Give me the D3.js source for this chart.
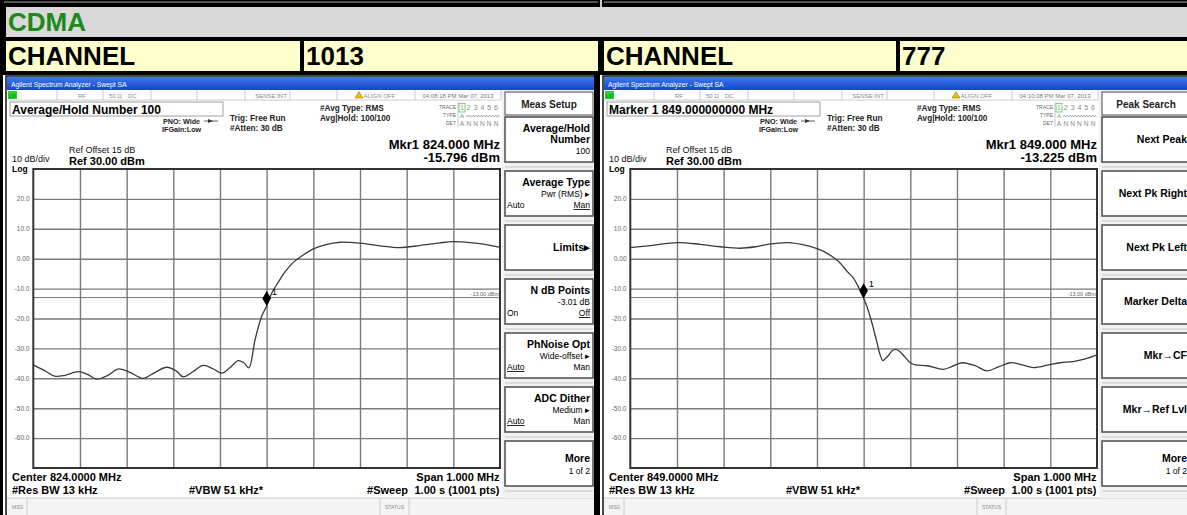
<!DOCTYPE html>
<html><head><meta charset="utf-8">
<script src="https://cdn.jsdelivr.net/npm/d3@7"></script>
<style>
html,body{margin:0;padding:0;background:#000;overflow:hidden;}
svg{display:block;}
</style></head><body>
<svg id="c" width="1187" height="515"></svg>
<script>
// ---------------- DATA ----------------
const sectionTitle = "CDMA";
const channelLabels = ["CHANNEL", "CHANNEL"];
const channelNumbers = ["1013", "777"];
const centerLabels = ["Center 824.0000 MHz", "Center 849.0000 MHz"];
const timestamps = ["04:08:18 PM Mar 07, 2013", "04:10:08 PM Mar 07, 2013"];
const activeFunction = ["Average/Hold Number 100", "Marker 1 849.000000000 MHz"];
const markerFreqLabels = ["Mkr1 824.000 MHz", "Mkr1 849.000 MHz"];
const markerValues = [-15.796, -13.225];          // dBm
const markerOffsetsKHz = [0, 0];                   // marker at center
const spanKHz = [-500, 500];                       // span 1.000 MHz
const amplitudeRange = [-70, 30];                  // Ref 30 dBm, 10 dB/div
const yTickValues = [20, 10, 0, -10, -20, -30, -40, -50, -60];
const yTickLabels = ["20.0", "10.0", "0.00", "-10.0", "-20.0", "-30.0", "-40.0", "-50.0", "-60.0"];
const xGridValues = [-400, -300, -200, -100, 0, 100, 200, 300, 400];
const displayLineValue = -13;
const displayLineLabel = "-13.00 dBm";

// Trace for channel 1013 (offset from center in kHz, level in dBm)
const trace1013Offsets = [-500,-475,-454,-432,-404,-383,-364,-340,-319,-293,-265,-239,-214,-194,-179,-158,-136,-115,-96,-79,-61,-49,-38,-25,-11,0,11,24,39,56,78,99,125,157,200,243,285,328,371,399,436,468,500];
const trace1013Values  = [-35.5,-37.5,-39.3,-39.0,-37.8,-38.8,-40.3,-39.0,-36.9,-38.0,-40.0,-38.0,-36.3,-37.5,-39.5,-37.8,-35.7,-36.8,-38.3,-36.5,-34.1,-34.8,-36.5,-27.2,-19.4,-15.8,-11.5,-8.1,-4.5,-1.4,1.2,3.2,4.6,5.5,5.2,4.3,3.7,4.4,5.3,5.7,5.4,4.8,3.8];

// Trace for channel 777
const trace777Offsets = [-500,-457,-399,-350,-307,-264,-232,-206,-163,-121,-97,-78,-61,-50,-35,-22,-11,0,7,14,22,29,36,41,46,54,61,68,78,89,100,111,136,171,190,211,239,264,289,314,340,364,394,421,449,475,500];
const trace777Values  = [3.7,4.4,5.4,4.8,4.0,3.5,4.0,4.8,5.4,4.4,3.2,1.8,0.0,-1.5,-4.3,-6.5,-9.5,-13.2,-16.0,-19.4,-24.0,-28.3,-32.5,-34.1,-33.5,-32.2,-30.8,-30.3,-31.1,-33.0,-34.8,-35.5,-35.8,-37.0,-36.0,-34.8,-35.8,-37.5,-36.2,-34.8,-35.5,-36.4,-35.6,-34.8,-34.4,-33.5,-32.2];

const softkeyTitles = ["Meas Setup", "Peak Search"];
const softkeysMeasSetup = [
  {main: ["Average/Hold", "Number"], sub: "100"},
  {main: ["Average Type"], sub: "Pwr (RMS) \u25B8", am: ["Auto", "Man"], u: 1},
  {main: ["Limits\u25B8"]},
  {main: ["N dB Points"], sub: "-3.01 dB", am: ["On", "Off"], u: 1},
  {main: ["PhNoise Opt"], sub: "Wide-offset \u25B8", am: ["Auto", "Man"], u: 0},
  {main: ["ADC Dither"], sub: "Medium \u25B8", am: ["Auto", "Man"], u: 0},
  {main: ["More"], sub: "1 of 2", more: true}
];
const softkeysPeakSearch = [
  {main: ["Next Peak"]},
  {main: ["Next Pk Right"]},
  {main: ["Next Pk Left"]},
  {main: ["Marker Delta"]},
  {main: ["Mkr\u2192CF"]},
  {main: ["Mkr\u2192Ref Lvl"]},
  {main: ["More"], sub: "1 of 2", more: true}
];

// ---------------- DRAW ----------------
const W = 1187, H = 515;
const FONT = '"Liberation Sans", Arial, Helvetica, sans-serif';
const svg = d3.select("#c").style("font-family", FONT);

function txt(g, x, y, s, size, o = {}) {
  const t = g.append("text").attr("x", x).attr("y", y).text(s)
    .attr("font-size", size)
    .attr("font-weight", o.bold ? "bold" : "normal")
    .attr("fill", o.fill || "#000")
    .attr("text-anchor", o.anchor || "start");
  if (o.u) t.attr("text-decoration", "underline");
  return t;
}

svg.append("rect").attr("width", W).attr("height", H).attr("fill", "#000");
// remnant of row above
svg.append("rect").attr("x", 4).attr("y", 1).attr("width", 594).attr("height", 2).attr("fill", "#555");
svg.append("rect").attr("x", 604).attr("y", 1).attr("width", 583).attr("height", 2).attr("fill", "#555");
svg.append("rect").attr("x", 600).attr("y", 0).attr("width", 2).attr("height", 7).attr("fill", "#ccc");

// section band
svg.append("rect").attr("x", 6).attr("y", 7).attr("width", W - 6).attr("height", 30).attr("fill", "#d9d9d9");
txt(svg, 8, 31, sectionTitle, 26, {bold: true, fill: "#1b8a1b"});

// channel row
const cells = [[6, 294, channelLabels[0]], [304, 294, channelNumbers[0]], [604, 292, channelLabels[1]], [900, 287, channelNumbers[1]]];
cells.forEach(c => {
  svg.append("rect").attr("x", c[0]).attr("y", 41).attr("width", c[1]).attr("height", 30).attr("fill", "#ffffcc");
  txt(svg, c[0] + 2, 65, c[2], 26, {bold: true});
});

function drawPanel(idx, dx, traceOff, traceVal, softkeys) {
  const g = svg.append("g").attr("transform", `translate(${dx},0)`);
  // frame
  g.append("rect").attr("x", 3).attr("y", 75).attr("width", 592).attr("height", 440).attr("fill", "#fff");
  g.append("rect").attr("x", 6).attr("y", 76).attr("width", 588).attr("height", 439).attr("fill", "none").attr("stroke", "#111").attr("stroke-width", 1.5);
  // title bar
  const gradId = "tb" + idx;
  const grad = svg.append("defs").append("linearGradient").attr("id", gradId).attr("x1", 0).attr("x2", 0).attr("y1", 0).attr("y2", 1);
  grad.append("stop").attr("offset", 0).attr("stop-color", "#3d7af0");
  grad.append("stop").attr("offset", 1).attr("stop-color", "#1246c8");
  g.append("rect").attr("x", 7).attr("y", 77).attr("width", 587).attr("height", 13).attr("fill", `url(#${gradId})`);
  txt(g, 11, 87, "Agilent Spectrum Analyzer - Swept SA", 6.8, {fill: "#fff"});

  // status row
  g.append("rect").attr("x", 7).attr("y", 90).attr("width", 494).attr("height", 10).attr("fill", "#fff");
  g.append("line").attr("x1", 7).attr("x2", 501).attr("y1", 100).attr("y2", 100).attr("stroke", "#ccc");
  [57, 103, 151, 197, 245, 290, 337, 415, 501].forEach(x =>
    g.append("line").attr("x1", x).attr("x2", x).attr("y1", 90).attr("y2", 100).attr("stroke", "#bbb").attr("stroke-width", 0.8));
  g.append("rect").attr("x", 8).attr("y", 91).attr("width", 9).attr("height", 8).attr("fill", "#2bd12b");
  txt(g, 9, 97.5, "LXI", 4.5, {fill: "#063"});
  txt(g, 82, 97.5, "RF", 6, {fill: "#888", anchor: "middle"});
  txt(g, 109, 97.5, "50 \u03A9", 6, {fill: "#888"});
  txt(g, 128, 97.5, "DC", 6, {fill: "#888"});
  txt(g, 271, 97.5, "SENSE:INT", 6, {fill: "#888", anchor: "middle"});
  g.append("path").attr("d", "M355,98 L359,91.5 L363,98 Z").attr("fill", "#f0c000").attr("stroke", "#886600").attr("stroke-width", 0.5);
  txt(g, 363.5, 97.5, "ALIGN OFF", 6, {fill: "#888"});
  txt(g, 458, 97.5, timestamps[idx], 6, {fill: "#777", anchor: "middle"});

  // active function box
  g.append("rect").attr("x", 10).attr("y", 102).attr("width", 213).attr("height", 14).attr("fill", "#fff").attr("stroke", "#888").attr("stroke-width", 0.8);
  txt(g, 12, 113.5, activeFunction[idx], 12, {bold: true});

  txt(g, 163, 123.5, "PNO: Wide", 7.2, {bold: true, fill: "#222"});
  g.append("line").attr("x1", 204).attr("x2", 218).attr("y1", 121).attr("y2", 121).attr("stroke", "#333").attr("stroke-width", 0.8);
  g.append("path").attr("d", "M208,119 L213,121 L208,123 Z").attr("fill", "#333");
  txt(g, 162, 132, "IFGain:Low", 7.2, {bold: true, fill: "#222"});
  txt(g, 230, 120.5, "Trig: Free Run", 8.2, {bold: true, fill: "#222"});
  txt(g, 230, 131, "#Atten: 30 dB", 8.2, {bold: true, fill: "#222"});
  txt(g, 320, 110.5, "#Avg Type: RMS", 8.2, {bold: true, fill: "#222"});
  txt(g, 320, 120.5, "Avg|Hold: 100/100", 8.2, {bold: true, fill: "#222"});

  // trace table
  txt(g, 456, 109, "TRACE", 5, {fill: "#666", anchor: "end"});
  txt(g, 456, 117, "TYPE", 5, {fill: "#666", anchor: "end"});
  txt(g, 456, 125, "DET", 5, {fill: "#666", anchor: "end"});
  g.append("line").attr("x1", 458).attr("x2", 458).attr("y1", 102).attr("y2", 127).attr("stroke", "#bbb").attr("stroke-width", 0.8);
  g.append("rect").attr("x", 459).attr("y", 103.5).attr("width", 6).attr("height", 8.5).attr("fill", "none").attr("stroke", "#5c5").attr("stroke-width", 0.8);
  ["1", "2", "3", "4", "5", "6"].forEach((d, i) => txt(g, 462 + i * 6.8, 110, d, 7, {fill: i ? "#888" : "#7a7", anchor: "middle"}));
  txt(g, 462, 117.5, "A", 6, {fill: "#888", anchor: "middle"});
  g.append("path").attr("d", d3.range(0, 34, 1.4).map((v, i) => (i ? "L" : "M") + (466 + v) + "," + (115 + (i % 2 ? 0 : 2.2))).join(""))
    .attr("fill", "none").attr("stroke", "#888").attr("stroke-width", 0.6);
  ["A", "N", "N", "N", "N", "N"].forEach((d, i) => txt(g, 462 + i * 6.8, 125.5, d, 6.5, {fill: "#888", anchor: "middle"}));

  txt(g, 500, 149, markerFreqLabels[idx], 13, {bold: true, anchor: "end"});
  txt(g, 500, 162, markerValues[idx].toFixed(3) + " dBm", 13, {bold: true, anchor: "end"});
  txt(g, 69, 153, "Ref Offset 15 dB", 9, {fill: "#111"});
  txt(g, 69, 164.5, "Ref 30.00 dBm", 11, {bold: true});
  txt(g, 12, 162.3, "10 dB/div", 9, {fill: "#111"});
  txt(g, 12, 172, "Log", 8.5, {bold: true});

  // plot
  const x = d3.scaleLinear().domain(spanKHz).range([33.3, 500]);
  const y = d3.scaleLinear().domain(amplitudeRange).range([468, 169]);
  const plot = g.append("g");
  plot.append("rect").attr("x", x.range()[0]).attr("y", y.range()[1]).attr("width", x.range()[1] - x.range()[0]).attr("height", y.range()[0] - y.range()[1]).attr("fill", "#fff");

  // grid via axes
  const gx = plot.append("g").attr("transform", `translate(0,${y.range()[0]})`)
    .call(d3.axisBottom(x).tickValues(xGridValues).tickSize(-(y.range()[0] - y.range()[1])).tickFormat(""));
  const gy = plot.append("g").attr("transform", `translate(${x.range()[0]},0)`)
    .call(d3.axisLeft(y).tickValues(yTickValues).tickSize(-(x.range()[1] - x.range()[0])).tickFormat(""));
  [gx, gy].forEach(a => {
    a.select(".domain").remove();
    a.selectAll(".tick line").attr("stroke", "#7a7a7a").attr("stroke-width", 1.4);
  });
  // y labels
  plot.selectAll(".ylab").data(yTickValues).enter().append("text")
    .attr("x", 29.5).attr("y", d => y(d) + 2.3).attr("text-anchor", "end")
    .attr("font-size", 6.5).attr("fill", "#666").text((d, i) => yTickLabels[i]);

  // display line
  plot.append("line").attr("x1", x.range()[0]).attr("x2", x.range()[1]).attr("y1", y(displayLineValue)).attr("y2", y(displayLineValue))
    .attr("stroke", "#777").attr("stroke-width", 1);
  txt(plot, 499, y(displayLineValue) - 2, displayLineLabel, 5.5, {fill: "#666", anchor: "end"});

  // frame
  plot.append("rect").attr("x", x.range()[0]).attr("y", y.range()[1]).attr("width", x.range()[1] - x.range()[0]).attr("height", y.range()[0] - y.range()[1])
    .attr("fill", "none").attr("stroke", "#333").attr("stroke-width", 2);

  // trace
  const pts = traceOff.map((o, i) => [o, traceVal[i]]);
  const line = d3.line().x(d => x(d[0])).y(d => y(d[1])).curve(d3.curveCatmullRom.alpha(0.5));
  plot.append("path").attr("d", line(pts)).attr("fill", "none").attr("stroke", "#3a3a3a").attr("stroke-width", 1.3);

  // marker
  const mx = x(markerOffsetsKHz[idx]), my = y(markerValues[idx]);
  plot.append("path").attr("d", `M${mx},${my} L${mx - 4.3},${my - 7.5} L${mx},${my - 15} L${mx + 4.3},${my - 7.5} Z`).attr("fill", "#000");
  txt(plot, mx + 5, my - 11, "1", 9.5, {fill: "#000"});

  // bottom annotations
  txt(g, 12, 480.5, centerLabels[idx], 11, {bold: true});
  txt(g, 12, 493.5, "#Res BW 13 kHz", 11, {bold: true});
  txt(g, 189, 493.5, "#VBW 51 kHz*", 11, {bold: true});
  txt(g, 499.5, 480.5, "Span 1.000 MHz", 11, {bold: true, anchor: "end"});
  txt(g, 408, 493.5, "#Sweep", 11, {bold: true, anchor: "end"});
  txt(g, 499.5, 493.5, "1.00 s (1001 pts)", 11, {bold: true, anchor: "end"});

  // message bar
  g.append("rect").attr("x", 7).attr("y", 498).attr("width", 587).attr("height", 17).attr("fill", "#f4f4f4");
  g.append("line").attr("x1", 7).attr("x2", 594).attr("y1", 498).attr("y2", 498).attr("stroke", "#ccc");
  txt(g, 12, 508.5, "MSG", 5, {fill: "#888"});
  g.append("line").attr("x1", 27).attr("x2", 27).attr("y1", 499).attr("y2", 515).attr("stroke", "#ccc");
  g.append("line").attr("x1", 380).attr("x2", 380).attr("y1", 499).attr("y2", 515).attr("stroke", "#ccc");
  g.append("line").attr("x1", 409).attr("x2", 409).attr("y1", 499).attr("y2", 515).attr("stroke", "#ccc");
  txt(g, 394.5, 508.5, "STATUS", 5, {fill: "#888", anchor: "middle"});

  // softkeys
  g.append("rect").attr("x", 502).attr("y", 90).attr("width", 92).attr("height", 408).attr("fill", "#f2f2f2");
  g.append("rect").attr("x", 505).attr("y", 92).attr("width", 88).attr("height", 23).attr("fill", "#fff").attr("stroke", "#666").attr("stroke-width", 1.2);
  txt(g, 549, 107.5, softkeyTitles[idx], 10, {bold: true, fill: "#222", anchor: "middle"});
  softkeys.forEach((k, i) => {
    const T = 117 + i * 54;
    g.append("rect").attr("x", 505).attr("y", T).attr("width", 88).attr("height", 45)
      .attr("fill", "#fff").attr("stroke", "#555").attr("stroke-width", 1.6);
    g.append("line").attr("x1", 505).attr("x2", 593).attr("y1", T + 50).attr("y2", T + 50).attr("stroke", "#bbb").attr("stroke-width", 0.8);
    const R = 590;
    if (k.more) {
      txt(g, R, T + 21, k.main[0], 10.5, {bold: true, anchor: "end"});
      txt(g, R, T + 33, k.sub, 8.5, {anchor: "end"});
    } else if (!k.sub) {
      txt(g, R, T + 26, k.main[0], 10.5, {bold: true, anchor: "end"});
    } else {
      k.main.forEach((m, j) => txt(g, R, T + 15 + j * 11, m, 10.5, {bold: true, anchor: "end"}));
      const sy = T + 15 + k.main.length * 11 - 0.5;
      txt(g, R, sy, k.sub, 8.5, {anchor: "end"});
      if (k.am) {
        txt(g, 507, T + 37, k.am[0], 8.5, {u: k.u === 0});
        txt(g, R, T + 37, k.am[1], 8.5, {anchor: "end", u: k.u === 1});
      }
    }
  });
  g.append("rect").attr("x", 594).attr("y", 75).attr("width", 4).attr("height", 440).attr("fill", "#000");
}

drawPanel(0, 0, trace1013Offsets, trace1013Values, softkeysMeasSetup);
drawPanel(1, 597, trace777Offsets, trace777Values, softkeysPeakSearch);
</script>
</body></html>
